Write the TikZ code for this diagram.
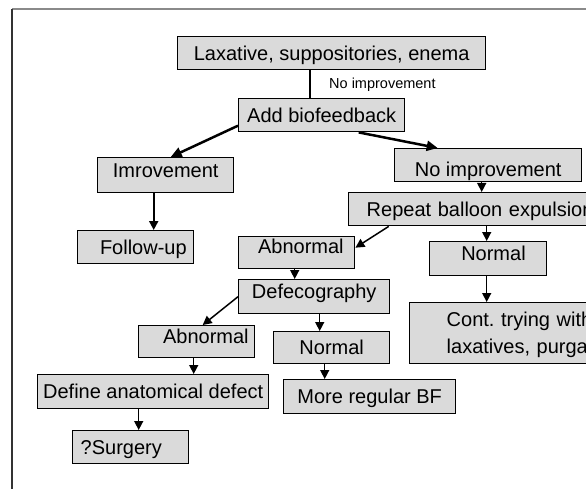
\documentclass[tikz,border=0pt]{standalone}
\usepackage{fontspec}
\setmainfont{Liberation Sans}
\usetikzlibrary{arrows.meta}
\frenchspacing
\definecolor{boxgray}{HTML}{DADADA}
\definecolor{framegray}{HTML}{8A8A8A}
\tikzset{
  box/.style={draw=black, line width=1.4pt, fill=boxgray,
    font=\fontsize{20}{27}\selectfont, text height=14.3pt, text depth=0pt,
    inner ysep=0pt, inner xsep=0pt, anchor=north west},
  arr/.style={-{Triangle[length=9pt,width=9pt]}, line width=1.5pt},
  bigarr/.style={-{Triangle[length=11pt,width=10pt]}, line width=2.5pt},
  lbl/.style={font=\fontsize{14.5}{17}\selectfont, text height=10.4pt, text depth=0pt, inner sep=0pt, anchor=west}
}
\begin{document}
\begin{tikzpicture}[x=1pt,y=-1pt]
\useasboundingbox (0,0) rectangle (586,489);
\fill[white] (0,0) rectangle (586,489);
\clip (0,0) rectangle (586,489);
% frame
\draw[framegray, line width=2pt] (12,9) -- (600,9);
\draw[black!80, line width=1.2pt] (12,9) -- (12,500);
% nodes
\node[box, minimum width=308pt, minimum height=33pt] (lax) at (177,36) {Laxative, suppositories, enema};
\node[box, minimum width=166pt, minimum height=33pt] (addbf) at (238,98) {Add biofeedback};
\node[box, minimum width=136pt, minimum height=35pt, text depth=9pt] (imp) at (97,157) {Imrovement};
\node[box, minimum width=187pt, minimum height=33pt, text height=23.3pt] (noimp) at (394,148) {No improvement};
\node[box, minimum height=33pt, inner xsep=7pt, text width=102pt, align=right] (follow) at (77,230) {Follow-up};
\node[box, minimum height=33pt, inner xsep=18pt, text width=260pt, align=left] (repeat) at (348,192) {Repeat balloon expulsion};
\node[box, minimum height=32pt, inner xsep=11pt, text width=94pt, align=right, text depth=12pt] (abn1) at (238,236) {Abnormal};
\node[box, minimum height=34pt, inner xsep=21pt, text width=75pt, align=right, text depth=10pt] (normR) at (429,241) {Normal};
\node[box, minimum height=61pt, inner xsep=37pt, text width=240pt, align=left, text depth=27pt] (cont) at (409,302) {Cont. trying with\\laxatives, purgatives};
\node[box, minimum width=151pt, minimum height=34pt, text depth=11pt] (defeco) at (238,279) {Defecography};
\node[box, minimum height=32pt, inner xsep=6pt, text width=104pt, align=right, text depth=11pt] (abn2) at (138,325) {Abnormal};
\node[box, minimum width=116pt, minimum height=32pt] (normM) at (273,331) {Normal};
\node[box, minimum width=231pt, minimum height=34pt] (define) at (37,374) {Define anatomical defect};
\node[box, minimum width=172pt, minimum height=34pt] (morebf) at (283,379) {More regular BF};
\node[box, minimum height=33pt, inner xsep=8pt, text width=100pt, align=left] (surg) at (72,430) {?Surgery};
% label
\node[lbl] (noimplbl) at (329,83) {No improvement};
% connectors
\draw[line width=2pt] ([xshift=-22pt]lax.south) -- ([xshift=-12pt]addbf.north);
\draw[bigarr] ([yshift=-10.5pt]addbf.west) -- ([xshift=5pt]imp.north);
\draw[bigarr] ([xshift=37pt]addbf.south) -- ([xshift=-50.5pt]noimp.north);
\draw[arr, line width=2pt] ([xshift=-12pt]imp.south) -- ([xshift=18pt]follow.north);
\draw[arr] ([xshift=-6.5pt]noimp.south) -- ([xshift=-15pt]repeat.north);
\draw[arr] ([xshift=-10pt]repeat.south) -- ([xshift=-1.5pt]normR.north);
\draw[arr] ([xshift=-1.5pt]normR.south) -- ([xshift=-80pt]cont.north);
\draw[arr] ([xshift=-108pt]repeat.south) -- ([yshift=5pt]abn1.east);
\draw[arr] ([xshift=-2pt]abn1.south) -- ([xshift=-19.5pt]defeco.north);
\draw[arr] (defeco.west) -- ([xshift=6pt]abn2.north);
\draw[arr] ([xshift=5.5pt]defeco.south) -- ([xshift=-12pt]normM.north);
\draw[arr] ([xshift=-7pt]normM.south) -- ([xshift=-45pt]morebf.north);
\draw[arr] ([xshift=-3pt]abn2.south) -- ([xshift=40.5pt]define.north);
\draw[arr] ([xshift=-14.5pt]define.south) -- ([xshift=8pt]surg.north);
\end{tikzpicture}
\end{document}
